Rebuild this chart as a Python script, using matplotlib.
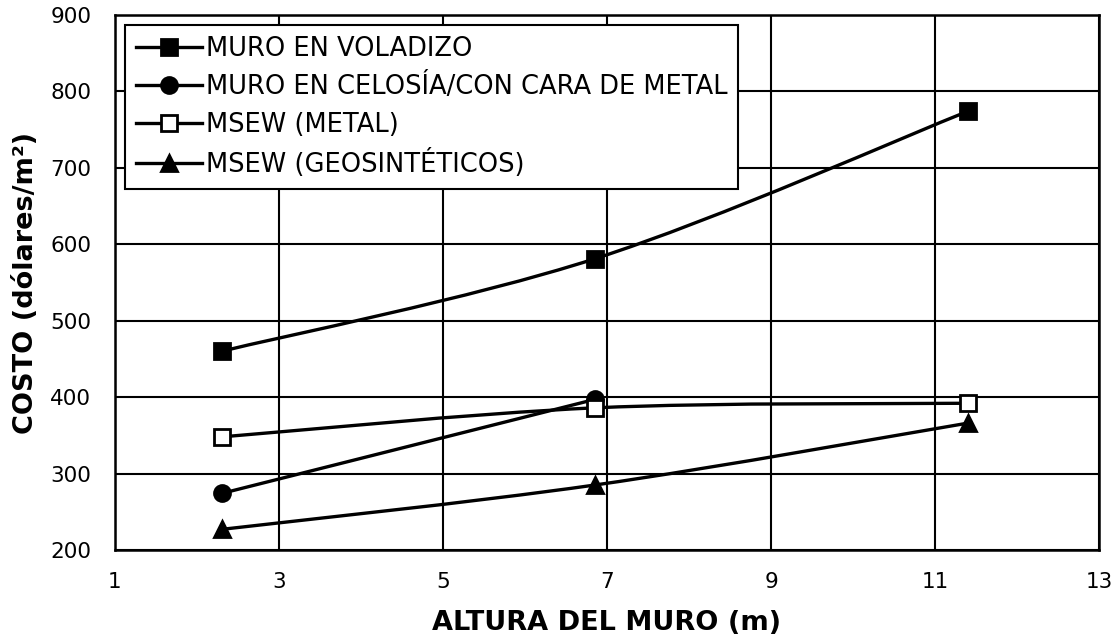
import numpy as np
import matplotlib.pyplot as plt
from matplotlib.path import Path
from matplotlib.patches import PathPatch

# datos
altura = [2.3, 6.85, 11.4]
voladizo = [460, 581, 774]
celosia_x = [2.3, 6.85]
celosia = [274, 397]
msew_metal = [348, 386, 392]
msew_geo = [227, 285, 366]

series = [
    ("MURO EN VOLADIZO", altura, voladizo, "s", "black"),
    ("MURO EN CELOSÍA/CON CARA DE METAL", celosia_x, celosia, "o", "black"),
    ("MSEW (METAL)", altura, msew_metal, "s", "white"),
    ("MSEW (GEOSINTÉTICOS)", altura, msew_geo, "^", "black"),
]


def smooth_path(x, y):
    # curva suavizada tipo Excel (Bezier de Catmull-Rom)
    p = np.column_stack([x, y]).astype(float)
    ext = np.vstack([p[0], p, p[-1]])
    verts = [p[0]]
    codes = [Path.MOVETO]
    for i in range(len(p) - 1):
        p0, p1, p2, p3 = ext[i], ext[i + 1], ext[i + 2], ext[i + 3]
        verts += [p1 + (p2 - p0) / 6, p2 - (p3 - p1) / 6, p2]
        codes += [Path.CURVE4] * 3
    return Path(verts, codes)


plt.rcParams['font.family'] = ['DejaVu Sans']
fig = plt.figure(figsize=(11.17, 6.38), dpi=100)
ax = fig.add_axes([115 / 1117, 88 / 638, 984 / 1117, 535 / 638])

for label, x, y, m, fc in series:
    ax.add_patch(PathPatch(smooth_path(x, y), fill=False, lw=2.4,
                           edgecolor="black", zorder=3))
    ax.plot(x, y, linestyle="none", marker=m, markersize=11.5,
            markerfacecolor=fc, markeredgecolor="black", markeredgewidth=2,
            zorder=4)
    # entrada de la leyenda
    ax.plot([], [], color="black", lw=2.4, marker=m, markersize=11.5,
            markerfacecolor=fc, markeredgecolor="black", markeredgewidth=2,
            label=label)

ax.set_xlim(1, 13)
ax.set_ylim(200, 900)
ax.set_xticks(np.arange(1, 14, 2))
ax.set_yticks(np.arange(200, 901, 100))
ax.grid(True, color="black", lw=1.5)
ax.set_axisbelow(True)
for s in ax.spines.values():
    s.set_linewidth(1.8)
ax.tick_params(length=0, labelsize=15.5)
ax.tick_params(axis="x", pad=16)
ax.tick_params(axis="y", pad=17)

ax.set_xlabel("ALTURA DEL MURO (m)", fontsize=19.5, fontweight="bold",
              labelpad=13)
ax.set_ylabel("COSTO (dólares/m²)", fontsize=19.5, fontweight="bold",
              labelpad=8)

leg = ax.legend(loc="upper left", fontsize=18.5, frameon=True, fancybox=False,
                borderaxespad=0.4, handlelength=2.6, handletextpad=0.15,
                labelspacing=0.45, borderpad=0.4)
leg.get_frame().set_edgecolor("black")
leg.get_frame().set_linewidth(1.5)
leg.get_frame().set_alpha(1)

plt.savefig("out.png", dpi=100)
